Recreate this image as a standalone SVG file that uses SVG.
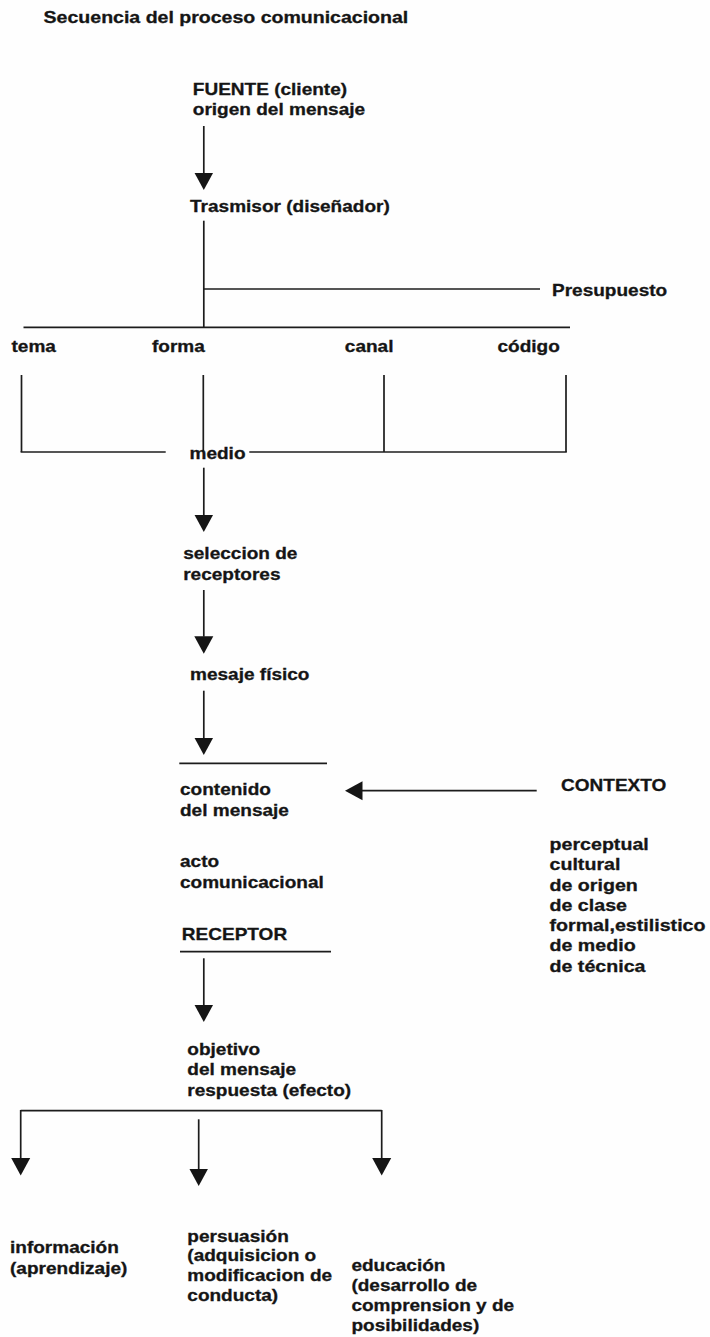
<svg xmlns="http://www.w3.org/2000/svg" width="710" height="1337" viewBox="0 0 710 1337">
<style>
.t{font-family:"Liberation Sans",Arial,sans-serif;font-weight:bold;font-size:17px;fill:#151515;stroke:#151515;stroke-width:0.3}
.ln{stroke:#1c1c1c;stroke-width:1.7;fill:none}
.ar{stroke:#1c1c1c;stroke-width:1.7;fill:none;marker-end:url(#ah)}
</style>
<defs>
<marker id="ah" markerUnits="userSpaceOnUse" markerWidth="19" markerHeight="20" refX="0.5" refY="9.5" orient="auto" viewBox="0 0 19 19">
<path d="M0,0 L17.5,9.5 L0,19 Z" fill="#151515"/>
</marker>
</defs>
<rect width="710" height="1337" fill="#fefefe"/>

<g id="connectors">
<line class="ar" x1="203.8" y1="126" x2="203.8" y2="173"/>
<line class="ln" x1="203.8" y1="220.7" x2="203.8" y2="327.3"/>
<line class="ln" x1="203.8" y1="289" x2="540" y2="289"/>
<line class="ln" x1="23.5" y1="327.3" x2="570" y2="327.3"/>
<line class="ln" x1="21.5" y1="375" x2="21.5" y2="452"/>
<line class="ln" x1="203.3" y1="375" x2="203.3" y2="452"/>
<line class="ln" x1="384" y1="375" x2="384" y2="452"/>
<line class="ln" x1="566" y1="375" x2="566" y2="452"/>
<line class="ln" x1="20.6" y1="452" x2="165.7" y2="452"/>
<line class="ln" x1="249.3" y1="452" x2="566.8" y2="452"/>
<line class="ar" x1="203.8" y1="467.7" x2="203.8" y2="515"/>
<line class="ar" x1="203.8" y1="590" x2="203.8" y2="636.7"/>
<line class="ar" x1="203.8" y1="690.7" x2="203.8" y2="738"/>
<line class="ln" x1="179.3" y1="763.3" x2="327" y2="763.3"/>
<line class="ar" x1="536.7" y1="790.7" x2="362" y2="790.7"/>
<line class="ln" x1="180" y1="951.7" x2="331" y2="951.7"/>
<line class="ar" x1="203.8" y1="958.3" x2="203.8" y2="1005"/>
<line class="ln" x1="20.7" y1="1110.7" x2="381.7" y2="1110.7"/>
<line class="ar" x1="20.7" y1="1110" x2="20.7" y2="1158.5"/>
<line class="ar" x1="381.7" y1="1110" x2="381.7" y2="1158.5"/>
<line class="ar" x1="198.7" y1="1119.3" x2="198.7" y2="1169"/>
</g>

<g id="title" transform="translate(43.6,23) scale(1.15,1)"><text class="t">Secuencia del proceso comunicacional</text></g>
<g id="fuente" transform="translate(192.8,95) scale(1.12,1)"><text class="t"><tspan x="0">FUENTE (cliente)</tspan><tspan x="0" dy="20.3">origen del mensaje</tspan></text></g>
<g id="trasmisor" transform="translate(190,212) scale(1.12,1)"><text class="t">Trasmisor (diseñador)</text></g>
<g id="presupuesto" transform="translate(552,295.7) scale(1.12,1)"><text class="t">Presupuesto</text></g>
<g id="tema" transform="translate(11.5,352) scale(1.12,1)"><text class="t">tema</text></g>
<g id="forma" transform="translate(152,352) scale(1.12,1)"><text class="t">forma</text></g>
<g id="canal" transform="translate(344.8,352) scale(1.12,1)"><text class="t">canal</text></g>
<g id="codigo" transform="translate(497.5,352) scale(1.12,1)"><text class="t">código</text></g>
<g id="medio" transform="translate(189.5,459) scale(1.12,1)"><text class="t">medio</text></g>
<g id="seleccion" transform="translate(183.2,559.4) scale(1.12,1)"><text class="t"><tspan x="0">seleccion de</tspan><tspan x="0" dy="20.3">receptores</tspan></text></g>
<g id="mensaje-fisico" transform="translate(190,680) scale(1.12,1)"><text class="t">mesaje físico</text></g>
<g id="contenido" transform="translate(180,795.3) scale(1.12,1)"><text class="t"><tspan x="0">contenido</tspan><tspan x="0" dy="20.3">del mensaje</tspan></text></g>
<g id="contexto" transform="translate(561,790.7) scale(1.12,1)"><text class="t">CONTEXTO</text></g>
<g id="contexto-tipos" transform="translate(549.5,850) scale(1.155,1)"><text class="t"><tspan x="0">perceptual</tspan><tspan x="0" dy="20.3">cultural</tspan><tspan x="0" dy="20.3">de origen</tspan><tspan x="0" dy="20.3">de clase</tspan><tspan x="0" dy="20.3">formal,estilistico</tspan><tspan x="0" dy="20.3">de medio</tspan><tspan x="0" dy="20.3">de técnica</tspan></text></g>
<g id="acto" transform="translate(180,867.3) scale(1.12,1)"><text class="t"><tspan x="0">acto</tspan><tspan x="0" dy="20.3">comunicacional</tspan></text></g>
<g id="receptor" transform="translate(181.8,940) scale(1.12,1)"><text class="t">RECEPTOR</text></g>
<g id="objetivo" transform="translate(187.3,1055) scale(1.12,1)"><text class="t"><tspan x="0">objetivo</tspan><tspan x="0" dy="20.3">del mensaje</tspan><tspan x="0" dy="20.3">respuesta (efecto)</tspan></text></g>
<g id="informacion" transform="translate(10,1253.3) scale(1.12,1)"><text class="t"><tspan x="0">información</tspan><tspan x="0" dy="20.3">(aprendizaje)</tspan></text></g>
<g id="persuasion" transform="translate(187.3,1241.5) scale(1.12,1)"><text class="t"><tspan x="0">persuasión</tspan><tspan x="0" dy="20">(adquisicion o</tspan><tspan x="0" dy="20">modificacion de</tspan><tspan x="0" dy="20">conducta)</tspan></text></g>
<g id="educacion" transform="translate(351.4,1271.3) scale(1.12,1)"><text class="t"><tspan x="0">educación</tspan><tspan x="0" dy="20">(desarrollo de</tspan><tspan x="0" dy="20">comprension y de</tspan><tspan x="0" dy="19.8">posibilidades)</tspan></text></g>
</svg>
